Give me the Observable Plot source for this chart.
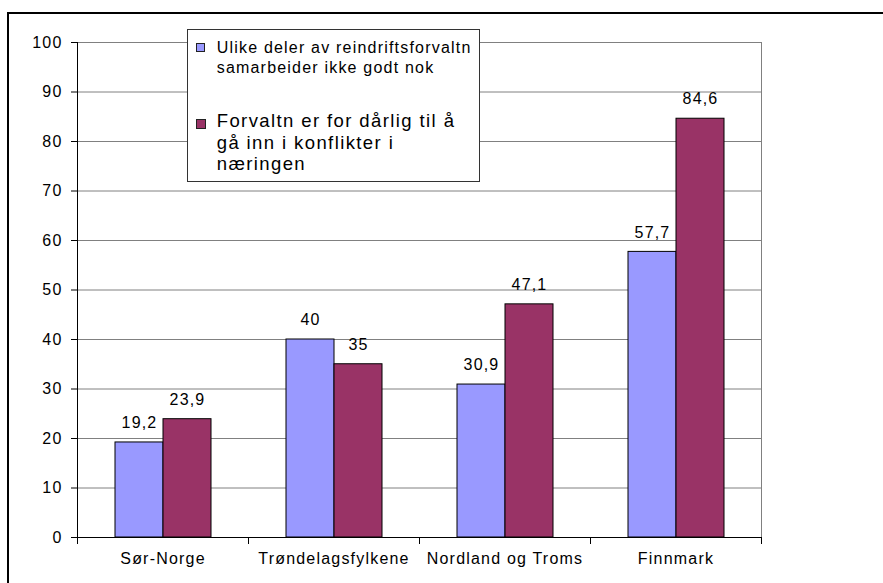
<!DOCTYPE html>
<html>
<head>
<meta charset="utf-8">
<script src="https://cdn.jsdelivr.net/npm/d3@7"></script>
<script src="https://cdn.jsdelivr.net/npm/@observablehq/plot@0.6"></script>
<style>
  html, body { margin: 0; padding: 0; background: #fff; overflow: hidden; }
  #wrap { position: relative; width: 883px; height: 583px; overflow: hidden; }
  #border { position: absolute; left: 7px; top: 12px; width: 900px; height: 600px; border: 2px solid #000; box-sizing: border-box; pointer-events: none; }
  #chart { position: absolute; left: 0; top: 0; }
  #legend { position: absolute; left: 187px; top: 29px; width: 293px; height: 153px; box-sizing: border-box;
            border: 1px solid #333; background: #fff; font-family: "Liberation Sans", Arial, sans-serif; color: #000; }
  .entry { position: absolute; left: 28.7px; white-space: pre-line; }
  .sw { position: absolute; left: 8px; box-sizing: border-box; border: 1px solid #222; }
</style>
</head>
<body>
<div id="wrap">
  <div id="chart"></div>
  <div id="legend"></div>
  <div id="border"></div>
</div>
<script>
const categories = ["Sør-Norge", "Trøndelagsfylkene", "Nordland og Troms", "Finnmark"];
const seriesKeys = ["s1", "s2"];
const seriesNames = [
  "Ulike deler av reindriftsforvaltn\nsamarbeider ikke godt nok",
  "Forvaltn er for dårlig til å\ngå inn i konflikter i\nnæringen"
];
const seriesColors = ["#9999FF", "#993366"];
const series1 = [19.2, 40, 30.9, 57.7];
const series2 = [23.9, 35, 47.1, 84.6];
const yTicks = [0, 10, 20, 30, 40, 50, 60, 70, 80, 90, 100];

const data = categories.flatMap((c, i) => [
  {cat: c, s: seriesKeys[0], v: series1[i]},
  {cat: c, s: seriesKeys[1], v: series2[i]}
]);
const fmt = v => String(v).replace(".", ",");

const plot = Plot.plot({
  width: 883,
  height: 583,
  marginLeft: 76,
  marginRight: 121,
  marginTop: 42,
  marginBottom: 46,
  style: {fontFamily: "'Liberation Sans', Arial, sans-serif", fontSize: "16px", letterSpacing: "1.2px", color: "#000", background: "transparent", overflow: "visible"},
  fx: {domain: categories, paddingInner: 0, paddingOuter: 0, label: null},
  x: {domain: seriesKeys, paddingInner: 0, paddingOuter: 0.75, axis: null, label: null},
  y: {domain: [0, 100], axis: null, label: null},
  color: {domain: seriesKeys, range: seriesColors},
  marks: [
    Plot.ruleY(yTicks, {stroke: "#808080", strokeWidth: 1}),
    Plot.frame({anchor: "right", facetAnchor: "right", stroke: "#808080"}),
    Plot.barY(data, {fx: "cat", x: "s", y: "v", fill: "s", stroke: "#000", strokeWidth: 1, inset: 0}),
    Plot.text(data, {fx: "cat", x: "s", y: "v", text: d => fmt(d.v), dy: -19.5, fill: "#000", fontSize: 16}),
    Plot.frame({anchor: "left", facetAnchor: "left", stroke: "#000"}),
    Plot.frame({anchor: "bottom", stroke: "#000"}),
    Plot.frame({anchor: "left", insetTop: 495, insetBottom: -6, stroke: "#000"}),
    Plot.frame({anchor: "right", facetAnchor: "right", insetTop: 495, insetBottom: -6, stroke: "#000"}),
    Plot.axisY({ticks: yTicks, anchor: "left", tickSize: 6, tickPadding: 9, tickFormat: d => String(d), fontSize: 16, stroke: "#000", label: null}),
    Plot.axisFx({anchor: "bottom", tickSize: 0, tickPadding: 15, label: null, fontSize: 16})
  ]
});
document.getElementById("chart").appendChild(plot);

// legend
const legend = document.getElementById("legend");
const legendSpecs = [
  {fontSize: 16, lineHeight: 20, textTop: 7.7, swTop: 12.5, swSize: 9, ls: 1.2},
  {fontSize: 18.5, lineHeight: 21.5, textTop: 80.2, swTop: 89, swSize: 10, ls: 1.4}
];
seriesNames.forEach((name, i) => {
  const sp = legendSpecs[i];
  const sw = document.createElement("div");
  sw.className = "sw";
  sw.style.top = sp.swTop + "px";
  sw.style.width = sp.swSize + "px";
  sw.style.height = sp.swSize + "px";
  sw.style.background = seriesColors[i];
  legend.appendChild(sw);
  const t = document.createElement("div");
  t.className = "entry";
  t.style.top = sp.textTop + "px";
  t.style.fontSize = sp.fontSize + "px";
  t.style.lineHeight = sp.lineHeight + "px";
  t.style.letterSpacing = sp.ls + "px";
  t.textContent = name;
  legend.appendChild(t);
});
</script>
</body>
</html>
